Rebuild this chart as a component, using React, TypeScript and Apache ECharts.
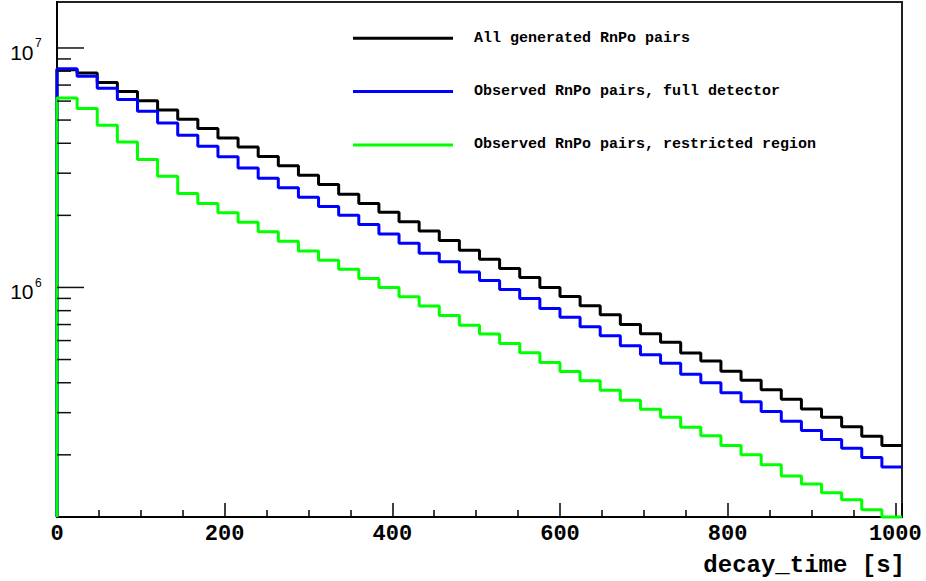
import React, { useEffect, useRef } from 'react';
import * as echarts from 'echarts';

// ---- data ----
const BIN_WIDTH = 24; // seconds per bin
const X_MAX = 1008;
const Y_MIN = 1.1e5;
const Y_MAX = 1.556e7;
const X_TICK_LABELS = [0, 200, 400, 600, 800, 1000];

const allGenerated = [
  8.11e6, 7.87e6, 7.17e6, 6.58e6, 6.02e6, 5.51e6, 5.04e6, 4.61e6, 4.21e6, 3.86e6,
  3.52e6, 3.22e6, 2.94e6, 2.69e6, 2.45e6, 2.24e6, 2.06e6, 1.88e6, 1.72e6, 1.57e6,
  1.43e6, 1.31e6, 1.20e6, 1.10e6, 1.00e6, 9.17e5, 8.38e5, 7.69e5, 7.01e5, 6.40e5,
  5.90e5, 5.33e5, 4.93e5, 4.47e5, 4.10e5, 3.74e5, 3.41e5, 3.11e5, 2.87e5, 2.62e5,
  2.39e5, 2.19e5,
];

const observedFull = [
  8.19e6, 7.62e6, 6.79e6, 6.09e6, 5.44e6, 4.86e6, 4.32e6, 3.89e6, 3.51e6, 3.15e6,
  2.86e6, 2.61e6, 2.38e6, 2.18e6, 2.00e6, 1.83e6, 1.67e6, 1.53e6, 1.39e6, 1.28e6,
  1.16e6, 1.07e6, 9.81e5, 9.00e5, 8.17e5, 7.50e5, 6.85e5, 6.28e5, 5.71e5, 5.23e5,
  4.82e5, 4.34e5, 4.00e5, 3.63e5, 3.33e5, 3.03e5, 2.76e5, 2.53e5, 2.32e5, 2.13e5,
  1.95e5, 1.78e5,
];

const observedRestricted = [
  6.18e6, 5.59e6, 4.76e6, 4.05e6, 3.42e6, 2.91e6, 2.47e6, 2.24e6, 2.05e6, 1.87e6,
  1.71e6, 1.56e6, 1.42e6, 1.30e6, 1.19e6, 1.09e6, 1.00e6, 9.14e5, 8.36e5, 7.64e5,
  6.96e5, 6.39e5, 5.83e5, 5.34e5, 4.86e5, 4.46e5, 4.08e5, 3.72e5, 3.38e5, 3.10e5,
  2.87e5, 2.61e5, 2.40e5, 2.19e5, 2.00e5, 1.82e5, 1.63e5, 1.51e5, 1.39e5, 1.30e5,
  1.18e5, 1.10e5,
];

const SERIES_NAMES = [
  'All generated RnPo pairs',
  'Observed RnPo pairs, full detector',
  'Observed RnPo pairs, restricted region',
];
const SERIES_VALUES = [allGenerated, observedFull, observedRestricted];
const SERIES_COLORS = ['#000000', '#0000ff', '#00ff00'];

const Y_MAJOR_TICKS = [1e6, 1e7];
const Y_MINOR_TICKS = [
  2e5, 3e5, 4e5, 5e5, 6e5, 7e5, 8e5, 9e5,
  2e6, 3e6, 4e6, 5e6, 6e6, 7e6, 8e6, 9e6,
];

const MONO = '"Liberation Mono", "Courier New", monospace';
const SANS = '"Liberation Sans", Arial, sans-serif';

function histPoints(vals: number[]) {
  const pts: number[][] = [[0, Y_MIN]];
  vals.forEach((v, i) => pts.push([i * BIN_WIDTH, v]));
  pts.push([vals.length * BIN_WIDTH, vals[vals.length - 1]]);
  return pts;
}

export default function App() {
  const ref = useRef<HTMLDivElement>(null);

  useEffect(() => {
    if (!ref.current) return;
    const chart = echarts.init(ref.current, undefined, { renderer: 'svg' });

    const tickData = [
      ...Y_MAJOR_TICKS.map((v) => [0, v, 1]),
      ...Y_MINOR_TICKS.map((v) => [0, v, 0]),
    ];

    const legendLeft = 353;
    const legendTop = 38.3;
    const legendStep = 53.3;
    const legendGraphics: any[] = [];
    SERIES_NAMES.forEach((name, i) => {
      const y = legendTop + i * legendStep;
      legendGraphics.push({
        type: 'line',
        shape: { x1: legendLeft, y1: y, x2: legendLeft + 100, y2: y },
        style: { stroke: SERIES_COLORS[i], lineWidth: 3 },
        z: 10,
      });
      legendGraphics.push({
        type: 'text',
        x: 474,
        y: y,
        style: {
          text: name,
          fontFamily: MONO,
          fontWeight: 'bold',
          fontSize: 15,
          fill: '#000',
          align: 'left',
          verticalAlign: 'middle',
        },
        z: 10,
      });
    });

    const option: any = {
      animation: false,
      backgroundColor: '#ffffff',
      grid: {
        left: 57,
        top: 2,
        width: 845,
        height: 515,
        show: true,
        borderColor: '#222',
        borderWidth: 2,
        backgroundColor: 'transparent',
      },
      xAxis: {
        type: 'value',
        min: 0,
        max: X_MAX,
        interval: 200,
        axisLine: { show: true, lineStyle: { color: '#000', width: 2 } },
        axisTick: { show: true, inside: true, length: 14, lineStyle: { color: '#000', width: 1.5 } },
        minorTick: { show: true, splitNumber: 4, length: 7, lineStyle: { color: '#000', width: 1.5 } },
        splitLine: { show: false },
        axisLabel: {
          margin: 6,
          fontFamily: MONO,
          fontWeight: 'bold',
          fontSize: 22,
          color: '#000',
          formatter: (v: number) => (X_TICK_LABELS.includes(Math.round(v)) && Math.abs(v - Math.round(v)) < 1e-6 ? String(Math.round(v)) : ''),
        },
      },
      yAxis: {
        type: 'log',
        logBase: 10,
        min: Y_MIN,
        max: Y_MAX,
        axisLine: { show: true, lineStyle: { color: '#000', width: 2 } },
        axisTick: { show: false },
        splitLine: { show: false },
        axisLabel: { show: false },
      },
      series: [
        ...SERIES_NAMES.map((name, i) => ({
          name,
          type: 'line',
          step: 'end',
          symbol: 'none',
          clip: false,
          data: histPoints(SERIES_VALUES[i]),
          lineStyle: { color: SERIES_COLORS[i], width: 3 },
          itemStyle: { color: SERIES_COLORS[i] },
          z: 3 + i,
        })),
        {
          type: 'custom',
          name: 'yticks',
          data: tickData,
          encode: { x: 0, y: 1 },
          clip: false,
          z: 10,
          renderItem: (params: any, api: any) => {
            const v = api.value(1);
            const major = api.value(2);
            const p = api.coord([0, v]);
            const children: any[] = [
              {
                type: 'line',
                shape: { x1: p[0], y1: p[1], x2: p[0] + (major ? 27 : 14), y2: p[1] },
                style: { stroke: '#111', lineWidth: 1.5 },
              },
            ];
            if (major) {
              const exp = Math.round(Math.log10(v));
              children.push({
                type: 'text',
                x: p[0] - 23.5,
                y: p[1] + 4.5,
                style: {
                  text: '10',
                  fontFamily: SANS,
                  fontSize: 21,
                  fill: '#000',
                  align: 'right',
                  verticalAlign: 'middle',
                },
              });
              children.push({
                type: 'text',
                x: p[0] - 22,
                y: p[1] - 4.5,
                style: {
                  text: String(exp),
                  fontFamily: SANS,
                  fontSize: 12,
                  fill: '#000',
                  align: 'left',
                  verticalAlign: 'middle',
                },
              });
            }
            return { type: 'group', children };
          },
        },
      ],
      graphic: [
        ...legendGraphics,
        {
          type: 'text',
          x: 905,
          y: 565,
          style: {
            text: 'decay_time [s]',
            fontFamily: MONO,
            fontWeight: 'bold',
            fontSize: 24,
            fill: '#000',
            align: 'right',
            verticalAlign: 'middle',
          },
        },
      ],
    };

    chart.setOption(option);
    return () => chart.dispose();
  }, []);

  return (
    <div
      ref={ref}
      style={{ position: 'fixed', left: 0, top: 0, width: 926, height: 581, background: '#fff' }}
    />
  );
}
